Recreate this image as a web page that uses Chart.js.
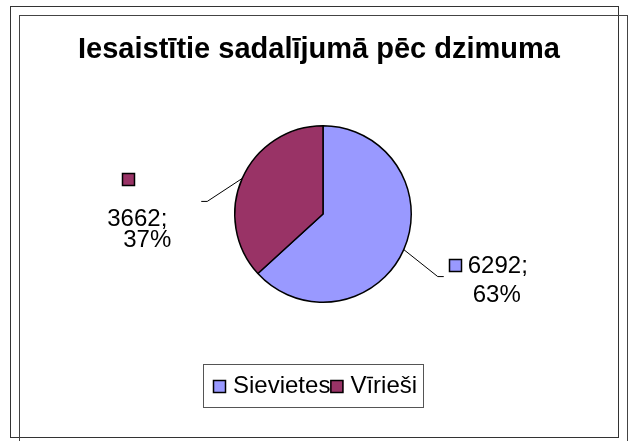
<!DOCTYPE html>
<html>
<head>
<meta charset="utf-8">
<script src="https://cdn.jsdelivr.net/npm/chart.js@4.4.0/dist/chart.umd.min.js"></script>
<style>
    body { margin: 0; background: #fff; }
    #wrap { width: 629px; height: 441px; }
</style>
</head>
<body>
<div id="wrap"><canvas id="genderChart" width="629" height="441"></canvas></div>
<script>
// dati no diagrammas
const chartTitle = 'Iesaistītie sadalījumā pēc dzimuma';
const categories = ['Sievietes', 'Vīrieši'];
const counts = [6292, 3662];
const sliceColors = ['#9999ff', '#993366'];

const total = counts.reduce((a, b) => a + b, 0);
const percents = counts.map(v => Math.round(v / total * 100) + '%');

const labelFont = '24px "Liberation Sans", Arial, sans-serif';
const titleFont = 'bold 29px "Liberation Sans", Arial, sans-serif';

// etiķešu izvietojums attiecībā pret sektora malas punktu
const labelLayout = [
    { elbow: [34, 27], tail: 6, marker: [45, 9], lines: [[64, 23], [69, 52]] },
    { elbow: [-35, 23], tail: -6, marker: [-120, -5], lines: [[-135, 48], [-119, 69]] }
];

function drawMarker(ctx, x, y, color) {
    ctx.fillStyle = color;
    ctx.fillRect(x, y, 13, 13);
    ctx.strokeStyle = '#000';
    ctx.lineWidth = 1.5;
    ctx.strokeRect(x + 0.5, y + 0.5, 12, 12);
}

const framePlugin = {
    id: 'frame',
    beforeDraw(chart) {
        const ctx = chart.ctx;
        ctx.save();
        ctx.fillStyle = '#fff';
        ctx.fillRect(0, 0, chart.width, chart.height);
        ctx.lineWidth = 1;
        ctx.strokeStyle = '#333';
        ctx.strokeRect(10.5, 6.5, 608, 431);
        ctx.strokeStyle = '#444';
        ctx.strokeRect(19.5, 15.5, 608, 440);
        ctx.restore();
    },
    afterDraw(chart) {
        const ctx = chart.ctx;
        ctx.save();

        // virsraksts
        ctx.fillStyle = '#000';
        ctx.font = titleFont;
        ctx.textAlign = 'center';
        ctx.textBaseline = 'alphabetic';
        ctx.fillText(chartTitle, 319, 58);

        // datu etiķetes
        ctx.textAlign = 'left';
        const meta = chart.getDatasetMeta(0);
        meta.data.forEach((arc, i) => {
            const p = arc.getProps(['x', 'y', 'startAngle', 'endAngle', 'outerRadius'], true);
            const mid = (p.startAngle + p.endAngle) / 2;
            const ex = p.x + Math.cos(mid) * p.outerRadius;
            const ey = p.y + Math.sin(mid) * p.outerRadius;
            const lay = labelLayout[i];

            ctx.strokeStyle = '#000';
            ctx.lineWidth = 1;
            ctx.beginPath();
            ctx.moveTo(ex, ey);
            ctx.lineTo(ex + lay.elbow[0], ey + lay.elbow[1]);
            ctx.lineTo(ex + lay.elbow[0] + lay.tail, ey + lay.elbow[1]);
            ctx.stroke();

            drawMarker(ctx, Math.round(ex + lay.marker[0]), Math.round(ey + lay.marker[1]), sliceColors[i]);

            ctx.fillStyle = '#000';
            ctx.font = labelFont;
            ctx.fillText(counts[i] + ';', ex + lay.lines[0][0], ey + lay.lines[0][1]);
            ctx.fillText(percents[i], ex + lay.lines[1][0], ey + lay.lines[1][1]);
        });

        // leģenda
        ctx.strokeStyle = '#555';
        ctx.lineWidth = 1;
        ctx.strokeRect(203.5, 364.5, 220, 43);
        ctx.font = labelFont;
        let lx = 213;
        categories.forEach((name, i) => {
            drawMarker(ctx, lx, 380, sliceColors[i]);
            ctx.fillStyle = '#000';
            ctx.fillText(name, lx + 20, 393);
            lx += 20 + ctx.measureText(name).width;
        });

        ctx.restore();
    }
};

const ctx = document.getElementById('genderChart').getContext('2d');
const genderChart = new Chart(ctx, {
    type: 'pie',
    data: {
        labels: categories,
        datasets: [{
            data: counts,
            backgroundColor: sliceColors,
            borderColor: '#000',
            borderWidth: 1.5
        }]
    },
    options: {
        responsive: false,
        animation: false,
        layout: {
            padding: { left: 234, right: 217, top: 125, bottom: 138 }
        },
        plugins: {
            legend: { display: false },
            tooltip: { enabled: false },
            title: { display: false }
        }
    },
    plugins: [framePlugin]
});
</script>
</body>
</html>
